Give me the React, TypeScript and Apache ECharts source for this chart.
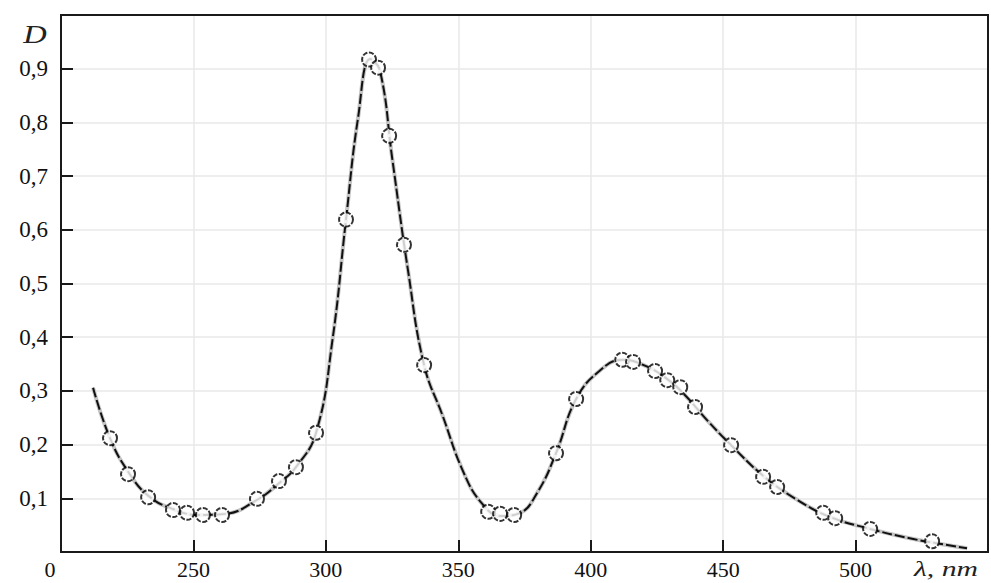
import React, { useEffect, useRef } from 'react';
import * as echarts from 'echarts';

// Measured points (open circles): wavelength, nm and optical density D
const markerX = [218.5, 225.3, 232.9, 242.3, 247.6, 253.6, 260.8, 274.0, 282.3, 288.7, 296.3, 307.6, 316.3, 319.7, 323.9, 329.5, 337.1, 361.3, 365.8, 371.1, 386.9, 394.5, 411.9, 416.0, 424.3, 428.9, 433.8, 439.4, 453.0, 465.1, 470.4, 487.8, 492.3, 505.5, 528.9];
const markerY = [0.212, 0.145, 0.102, 0.078, 0.073, 0.069, 0.069, 0.099, 0.132, 0.158, 0.222, 0.619, 0.917, 0.902, 0.775, 0.572, 0.348, 0.075, 0.071, 0.069, 0.184, 0.285, 0.358, 0.354, 0.337, 0.320, 0.307, 0.270, 0.199, 0.140, 0.121, 0.073, 0.063, 0.043, 0.020];

// Calculated spectrum (continuous curve)
const curveX = [212.1, 218.5, 225.3, 232.9, 242.3, 252.0, 262.0, 274.0, 282.3, 288.7, 296.3, 302.5, 307.6, 312.2, 316.8, 320.5, 325.0, 331.0, 337.1, 344.0, 352.0, 359.0, 366.0, 373.0, 380.0, 386.9, 394.5, 403.5, 412.0, 420.0, 428.9, 436.0, 444.0, 453.0, 465.1, 477.0, 490.0, 505.5, 520.0, 531.0, 542.1];
const curveY = [0.306, 0.212, 0.150, 0.105, 0.080, 0.069, 0.071, 0.097, 0.128, 0.158, 0.222, 0.395, 0.619, 0.810, 0.918, 0.895, 0.735, 0.525, 0.348, 0.255, 0.148, 0.090, 0.067, 0.072, 0.112, 0.184, 0.285, 0.338, 0.358, 0.348, 0.322, 0.290, 0.245, 0.199, 0.142, 0.100, 0.066, 0.043, 0.026, 0.016, 0.007];

const xMin = 200;
const xMax = 550;
const xStep = 50;
const yMin = 0;
const yMax = 1.0;
const yStep = 0.1;

const axisFont = 'Liberation Serif, Times New Roman, serif';

export default function App() {
  const ref = useRef<HTMLDivElement>(null);

  useEffect(() => {
    if (!ref.current) return;
    const chart = echarts.init(ref.current, null, { renderer: 'svg' });
    const curve = curveX.map((x, i) => [x, curveY[i]]);
    const markers = markerX.map((x, i) => [x, markerY[i]]);

    chart.setOption({
      animation: false,
      backgroundColor: '#ffffff',
      grid: {
        left: 61,
        top: 15,
        right: 2,
        bottom: 31,
        show: true,
        borderColor: '#1a1a1a',
        borderWidth: 2,
        backgroundColor: 'transparent',
        z: 10,
      },
      xAxis: {
        type: 'value',
        min: xMin,
        max: xMax,
        interval: xStep,
        axisLine: { show: true, lineStyle: { color: '#1a1a1a', width: 2 } },
        axisTick: { show: true, inside: true, length: 12, lineStyle: { color: '#1a1a1a', width: 2 } },
        splitLine: { show: true, showMinLine: false, showMaxLine: false, lineStyle: { color: '#e8e8e8', width: 1.5 } },
        axisLabel: {
          color: '#111',
          fontFamily: axisFont,
          fontSize: 22,
          margin: 6,
          formatter: (v: number) => (v === xMin || v === xMax ? '' : String(v)),
        },
      },
      yAxis: {
        type: 'value',
        min: yMin,
        max: yMax,
        interval: yStep,
        axisLine: { show: true, lineStyle: { color: '#1a1a1a', width: 2 } },
        axisTick: { show: true, inside: true, length: 12, lineStyle: { color: '#1a1a1a', width: 2 } },
        splitLine: { show: true, showMinLine: false, showMaxLine: false, lineStyle: { color: '#e8e8e8', width: 1.5 } },
        axisLabel: {
          color: '#111',
          fontFamily: axisFont,
          fontSize: 23,
          margin: 13,
          formatter: (v: number) =>
            v < 0.05 || v > 0.95 ? '' : v.toFixed(1).replace('.', ','),
        },
      },
      graphic: [
        {
          type: 'text',
          x: 50,
          y: 569,
          style: {
            text: '0',
            fontFamily: axisFont,
            fontSize: 22,
            fill: '#111',
            align: 'center',
            verticalAlign: 'middle',
          },
        },
        {
          type: 'text',
          x: 35,
          y: 34,
          scaleX: 1.3,
          style: {
            text: 'D',
            fontFamily: axisFont,
            fontStyle: 'italic',
            fontSize: 25,
            fill: '#222',
            align: 'center',
            verticalAlign: 'middle',
          },
        },
        {
          type: 'text',
          x: 946,
          y: 569,
          scaleX: 1.35,
          style: {
            text: 'λ, nm',
            fontFamily: axisFont,
            fontStyle: 'italic',
            fontSize: 22,
            fill: '#222',
            align: 'center',
            verticalAlign: 'middle',
          },
        },
      ],
      series: [
        {
          type: 'line',
          data: curve,
          smooth: 0.45,
          symbol: 'none',
          lineStyle: { color: '#c4c4c4', width: 4 },
          z: 2,
        },
        {
          type: 'line',
          data: curve,
          smooth: 0.45,
          symbol: 'none',
          lineStyle: { color: '#111', width: 2, type: [10, 3] },
          z: 3,
        },
        {
          type: 'scatter',
          data: markers,
          symbol: 'circle',
          symbolSize: 14,
          itemStyle: {
            color: '#ffffff',
            borderColor: '#000',
            borderWidth: 2,
            borderType: [5, 1.5],
          },
          z: 5,
        },
      ],
    });

    return () => chart.dispose();
  }, []);

  return (
    <div
      ref={ref}
      style={{ position: 'fixed', left: 0, top: 0, width: 991, height: 583 }}
    />
  );
}
